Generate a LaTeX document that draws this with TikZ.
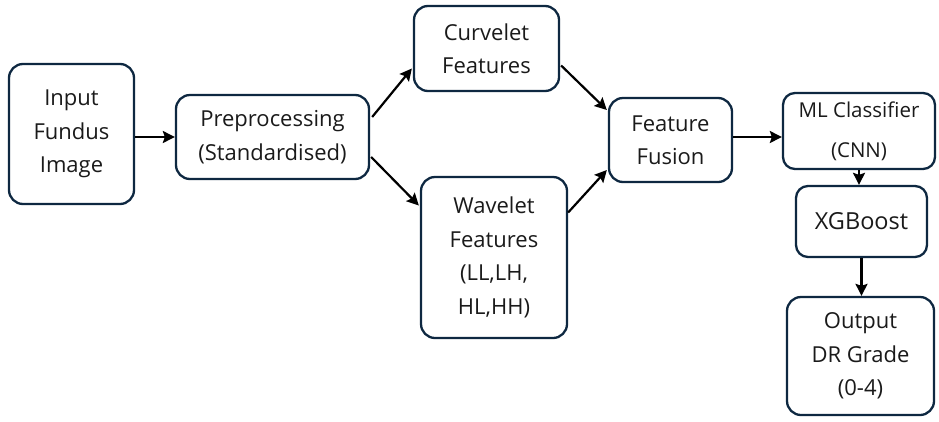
\documentclass[tikz,border=0pt]{standalone}
\usepackage{fontspec}
\setmainfont{Open Sans}
\usetikzlibrary{arrows.meta,calc}
\definecolor{boxline}{HTML}{0E2841}
\definecolor{txt}{HTML}{1A1A1A}
\begin{document}
\begin{tikzpicture}[x=1pt,y=-1pt,
  box/.style={draw=boxline, line width=2.3pt, rounded corners=14pt, align=center,
    font=\fontsize{22}{33.5}\selectfont, inner sep=0pt, text=txt},
  arr/.style={-{Stealth[length=12pt,width=12pt,inset=2pt]}, line width=2.2pt}]
\useasboundingbox (0,0) rectangle (939,421);
\node[box, minimum width=125pt, minimum height=140pt] (inp) at (71.5,134) {Input\\Fundus\\Image};
\node[box, minimum width=193pt, minimum height=84pt] (pre) at (272.5,137) {Preprocessing\\(Standardised)};
\node[box, minimum width=145pt, minimum height=85pt] (curv) at (486.5,48.5) {Curvelet\\Features};
\node[box, minimum width=146pt, minimum height=161pt] (wav) at (494,257.5) {Wavelet\\Features\\(LL,LH,\\HL,HH)};
\node[box, minimum width=123pt, minimum height=84pt] (fus) at (670.5,140) {Feature\\Fusion};
\node[box, minimum width=152pt, minimum height=76pt, rounded corners=12pt,
  font=\fontsize{20.5}{30}\selectfont] (ml) at (859,131) {ML Classifier\\[10pt](CNN)};
\node[box, minimum width=131pt, minimum height=71pt, rounded corners=12pt,
  font=\fontsize{23.5}{30}\selectfont] (xg) at (861.5,221.5) {XGBoost};
\node[box, minimum width=147pt, minimum height=118pt] (out) at (860.5,356) {Output\\DR Grade\\(0-4)};
\draw[arr] (inp.east |- pre.west) -- (pre.west);
\draw[arr] ($(pre.east)+(2,-20)$) -- ($(curv.west)+(-1,20)$);
\draw[arr] ($(pre.east)+(1,20)$) -- ($(wav.west)+(-1,-52)$);
\draw[arr] ($(curv.east)+(1,17)$) -- ($(fus.west)+(-1,-30)$);
\draw[arr] ($(wav.east)+(0,-45)$) -- ($(fus.west)+(-1,30)$);
\draw[arr] ($(fus.east)+(0,-3)$) -- ($(ml.west)+(0,6)$);
\draw[arr] (ml.south) -- (ml.south |- xg.north);
\draw[arr] (xg.south) -- (xg.south |- out.north);
\end{tikzpicture}
\end{document}
